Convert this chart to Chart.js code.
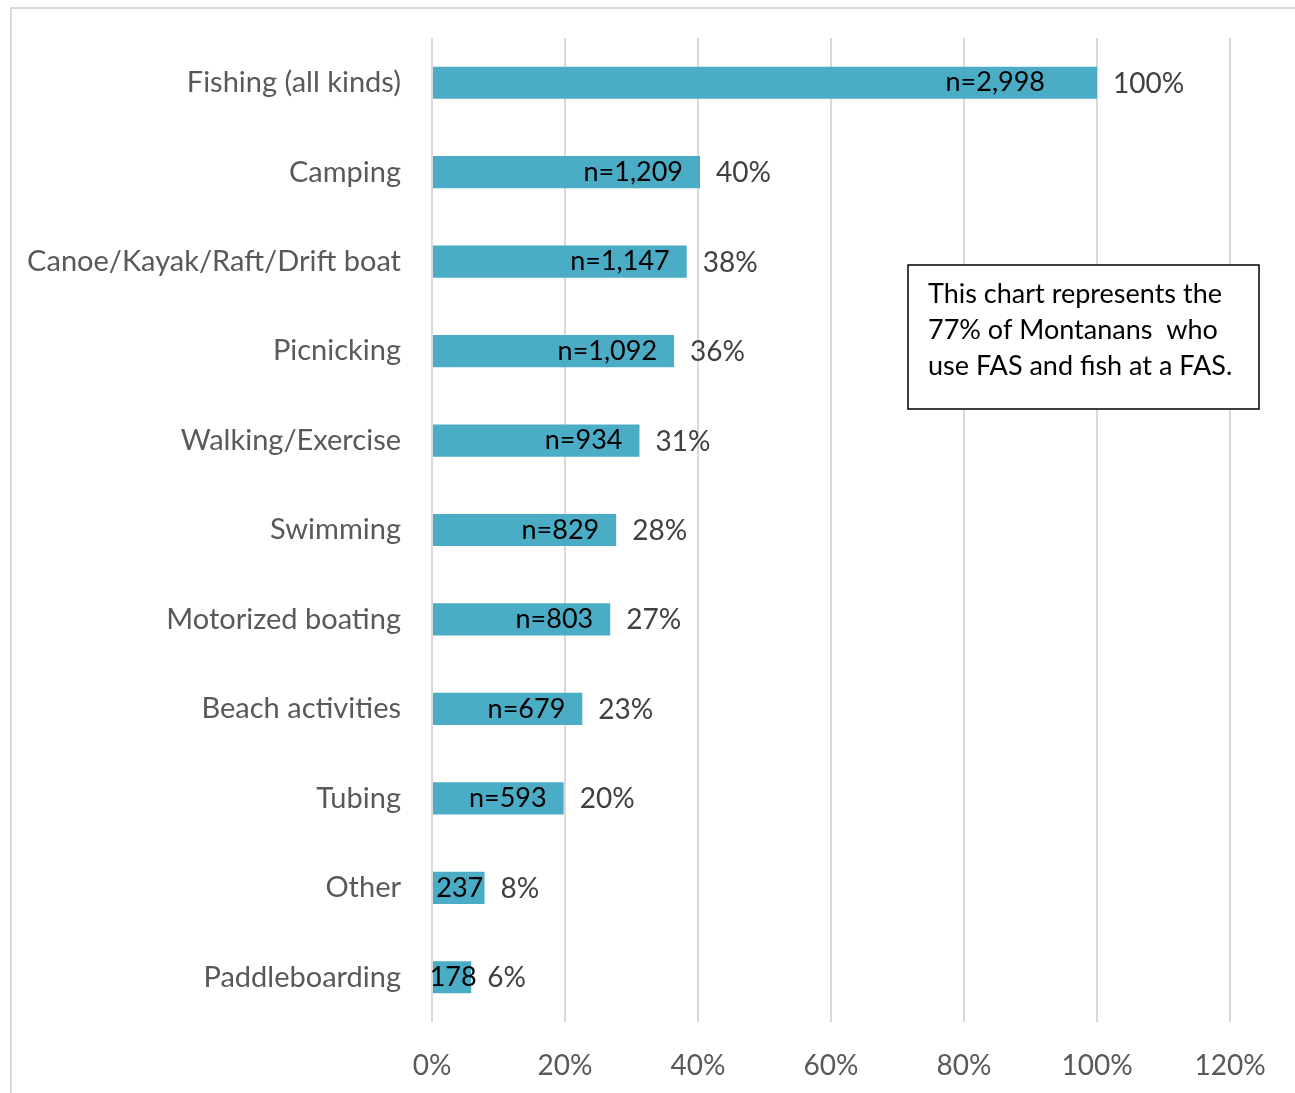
<!DOCTYPE html>
<html>
<head>
<meta charset="utf-8">
<script src="https://cdn.jsdelivr.net/npm/chart.js@4"></script>
<style>
  body { margin: 0; background: #fff; }
  #frame { position: absolute; left: 10px; top: 7px; width: 1283px; height: 1100px; border: 2px solid #d9d9d9; }
  #wrap { position: absolute; left: 0; top: 0; width: 1295px; height: 1093px; }
</style>
</head>
<body>
<div id="frame"></div>
<div id="wrap"><canvas id="chart"></canvas></div>
<script>
const categories = [
  'Fishing (all kinds)', 'Camping', 'Canoe/Kayak/Raft/Drift boat', 'Picnicking',
  'Walking/Exercise', 'Swimming', 'Motorized boating', 'Beach activities',
  'Tubing', 'Other', 'Paddleboarding'
];
const shares = [100, 40.3, 38.3, 36.4, 31.2, 27.7, 26.8, 22.6, 19.8, 7.9, 5.9];
const countLabels = ['n=2,998', 'n=1,209', 'n=1,147', 'n=1,092', 'n=934', 'n=829', 'n=803', 'n=679', 'n=593', '237', '178'];
const pctLabels = ['100%', '40%', '38%', '36%', '31%', '28%', '27%', '23%', '20%', '8%', '6%'];
const xTicks = [0, 20, 40, 60, 80, 100, 120];
const noteLines = ['This chart represents the', '77% of Montanans  who', 'use FAS and fish at a FAS.'];

const FONT = 'Lato, "Open Sans", sans-serif';

// etykiety przy słupkach + ramka z opisem
const labelsPlugin = {
  id: 'barLabels',
  afterDatasetsDraw(chart) {
    const ctx = chart.ctx;
    const meta = chart.getDatasetMeta(0);
    ctx.save();
    ctx.textBaseline = 'middle';
    meta.data.forEach((bar, i) => {
      const left = bar.base;
      const right = bar.x;
      ctx.font = '27px ' + FONT;
      const w = ctx.measureText(countLabels[i]).width;
      ctx.fillStyle = '#000';
      if (w + 20 > right - left) {
        ctx.textAlign = 'center';
        ctx.fillText(countLabels[i], (left + right) / 2 + 1, bar.y);
      } else {
        ctx.textAlign = 'right';
        const inset = i === 0 ? 52 : 17;
        ctx.fillText(countLabels[i], right - inset, bar.y);
      }
      ctx.font = '28px ' + FONT;
      ctx.fillStyle = '#404040';
      ctx.textAlign = 'left';
      ctx.fillText(pctLabels[i], right + 16, bar.y + 1);
    });

    // ramka z notatką
    const bx = 908, by = 265, bw = 351, bh = 144;
    ctx.fillStyle = '#fff';
    ctx.fillRect(bx, by, bw, bh);
    ctx.strokeStyle = '#000';
    ctx.lineWidth = 1.5;
    ctx.strokeRect(bx, by, bw, bh);
    ctx.fillStyle = '#000';
    ctx.font = '27px ' + FONT;
    ctx.textAlign = 'left';
    ctx.textBaseline = 'middle';
    noteLines.forEach((line, k) => {
      ctx.fillText(line, bx + 20, by + 29 + k * 36);
    });
    ctx.restore();
  }
};

new Chart(document.getElementById('chart'), {
  type: 'bar',
  data: {
    labels: categories,
    datasets: [{
      data: shares,
      backgroundColor: '#4bacc6',
      borderWidth: 0,
      barPercentage: 0.36,
      categoryPercentage: 1,
    }],
  },
  options: {
    indexAxis: 'y',
    responsive: true,
    maintainAspectRatio: false,
    animation: false,
    layout: { padding: { top: 38, right: 65, left: 0, bottom: 0 } },
    plugins: { legend: { display: false }, tooltip: { enabled: false } },
    scales: {
      x: {
        min: 0,
        max: 120,
        afterBuildTicks(scale) {
          scale.ticks = xTicks.map((v) => ({ value: v }));
        },
        afterFit(scale) { scale.height = 71; },
        grid: { color: '#d9d9d9', lineWidth: 2, drawTicks: false },
        border: { display: false },
        ticks: {
          padding: 27,
          color: '#595959',
          font: { family: FONT, size: 28 },
          callback: (v) => v + '%',
        },
      },
      y: {
        afterFit(scale) {
          scale.width = 432;
          scale.paddingTop = 0;
          scale.paddingBottom = 0;
        },
        grid: { display: false },
        border: { display: false },
        ticks: {
          padding: 23,
          color: '#595959',
          font: { family: FONT, size: 29 },
        },
      },
    },
  },
  plugins: [labelsPlugin],
});
</script>
</body>
</html>
